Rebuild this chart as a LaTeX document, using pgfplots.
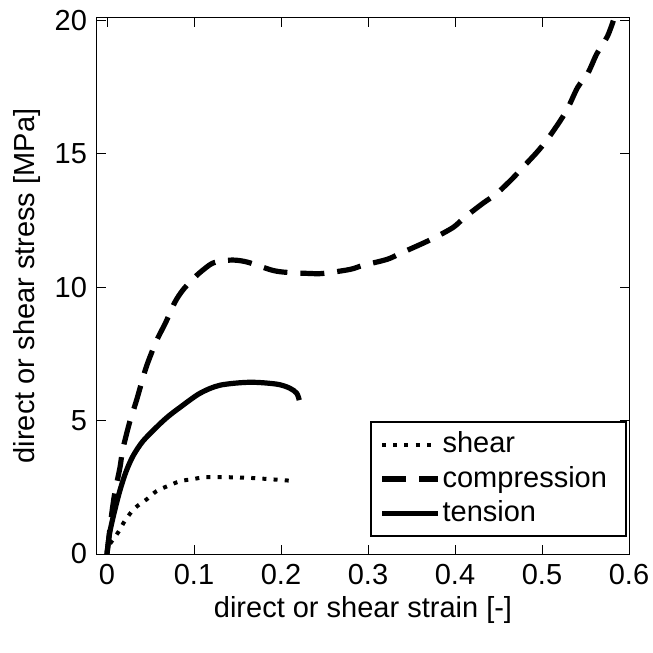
\documentclass[border=0pt]{standalone}
\usepackage{pgfplots}
\pgfplotsset{compat=1.18}
\usepackage{fontspec}
\setmainfont{Liberation Sans}
\begin{document}
\fontsize{14.5}{17}\selectfont
\begin{tikzpicture}
\begin{axis}[
  name=ax,
  scale only axis,
  width=266pt, height=268pt,
  xmin=-0.0115, xmax=0.6,
  ymin=0, ymax=20.1,
  xtick={0,0.1,0.2,0.3,0.4,0.5,0.6},
  xticklabels={0,0.1,0.2,0.3,0.4,0.5,0.6},
  ytick={0,5,10,15,20},
  tick align=inside,
  major tick length=4.5pt,
  tick style={black, line width=0.5pt},
  axis line style={line width=0.5pt},
  /pgf/number format/assume math mode=true,
  ticklabel style={font=\fontsize{14.5}{17}\selectfont},
  label style={font=\fontsize{14.5}{17}\selectfont},
  xlabel={direct or shear strain [-]},
  ylabel={direct or shear stress [MPa]},
  xlabel style={yshift=4pt},
  ylabel style={yshift=-3pt},
  legend style={at={(rel axis cs:1,0)}, anchor=south east, xshift=-1pt, yshift=8.5pt,
    draw=black, line width=1pt, inner xsep=4pt, inner ysep=4pt,
    font=\fontsize{14.5}{17}\selectfont, row sep=2.5pt,
    nodes={inner xsep=1pt, inner ysep=1pt}},
  legend cell align=left,
  legend image code/.code={\draw[#1] (0pt,0pt) -- (28pt,0pt);},
]
\addplot[black, line width=2pt, dash pattern=on 2pt off 3.6pt, smooth] coordinates {
(0,0) (0.001,0.26) (0.013,0.82) (0.021,1.27) (0.032,1.72) (0.046,2.06)
(0.057,2.36) (0.07,2.55) (0.084,2.73) (0.099,2.81) (0.113,2.88)
(0.138,2.88) (0.167,2.85) (0.202,2.77) (0.21,2.75)
};
\addlegendentry{shear}
\addplot[black, line width=2.6pt, dash pattern=on 12pt off 6.5pt, smooth] coordinates {
(0,0) (0.005,1.4) (0.009,2.3) (0.015,3.26) (0.018,3.9) (0.026,4.94)
(0.034,5.77) (0.045,7.0) (0.057,8.0) (0.067,8.65) (0.078,9.44)
(0.087,9.89) (0.097,10.25) (0.107,10.56) (0.121,10.9) (0.135,11.0)
(0.147,11.02) (0.162,10.94) (0.19,10.64) (0.207,10.56) (0.233,10.52)
(0.248,10.52) (0.279,10.67) (0.294,10.82) (0.322,11.05) (0.337,11.27)
(0.363,11.65) (0.377,11.87) (0.398,12.25) (0.411,12.62) (0.432,13.15)
(0.448,13.52) (0.466,14.08) (0.478,14.5) (0.494,15.06) (0.506,15.54)
(0.521,16.25) (0.530,16.74) (0.541,17.5) (0.553,18.05) (0.563,18.76)
(0.575,19.4) (0.582,20.0)
};
\addlegendentry{compression\hspace*{4.5pt}}
\addplot[black, line width=2.6pt, smooth] coordinates {
(0,0) (0.003,0.78) (0.009,1.65) (0.015,2.4) (0.022,3.1) (0.03,3.68)
(0.041,4.22) (0.057,4.76) (0.07,5.15) (0.084,5.5) (0.107,6.03)
(0.13,6.33) (0.164,6.44) (0.195,6.37) (0.21,6.22) (0.218,6.03) (0.221,5.77)
};
\addlegendentry{tension}
\end{axis}
\pgfresetboundingbox
\path ([xshift=-48.5pt,yshift=-49.5pt]ax.south west) rectangle ([xshift=12pt,yshift=9pt]ax.north east);
\end{tikzpicture}
\end{document}
